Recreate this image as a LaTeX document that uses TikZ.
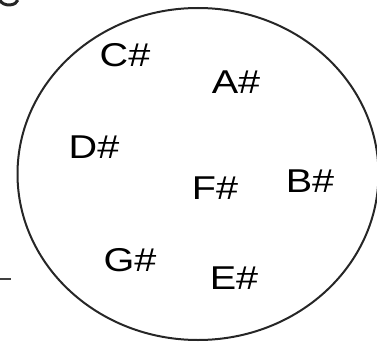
\documentclass[tikz,border=0pt]{standalone}
\usepackage{fontspec}
\setmainfont{Liberation Sans}
\usetikzlibrary{shapes.geometric}
\newcommand{\wide}[1]{\scalebox{1.2}[1]{#1}}
\begin{document}
\begin{tikzpicture}[x=1pt,y=-1pt,
  note/.style={inner sep=0pt,font=\fontsize{33}{33}\selectfont},
  stroke/.style={line width=2pt,black!85}]
\useasboundingbox (0,0) rectangle (377,345);
\node[draw,stroke,ellipse,minimum width=361,minimum height=332,inner sep=0pt] (e) at (198,174) {};
% partial glyph at top left
\draw[line width=3pt,black!85] (0.1,0) arc[start angle=170,end angle=10,x radius=9,y radius=6];
% dash at left
\coordinate (d1) at (0,279);
\coordinate (d2) at (11,279);
\draw[line width=2pt,black!75] (d1) -- (d2);
\node[note] (cs) at (125,55) {\wide{C\#}};
\node[note] (as) at (236,82) {\wide{A\#}};
\node[note] (ds) at (94,147) {\wide{D\#}};
\node[note] (fs) at (215,188) {\wide{F\#}};
\node[note] (bs) at (310,181) {\wide{B\#}};
\node[note] (gs) at (130,260) {\wide{G\#}};
\node[note] (es) at (234,278) {\wide{E\#}};
\end{tikzpicture}
\end{document}
